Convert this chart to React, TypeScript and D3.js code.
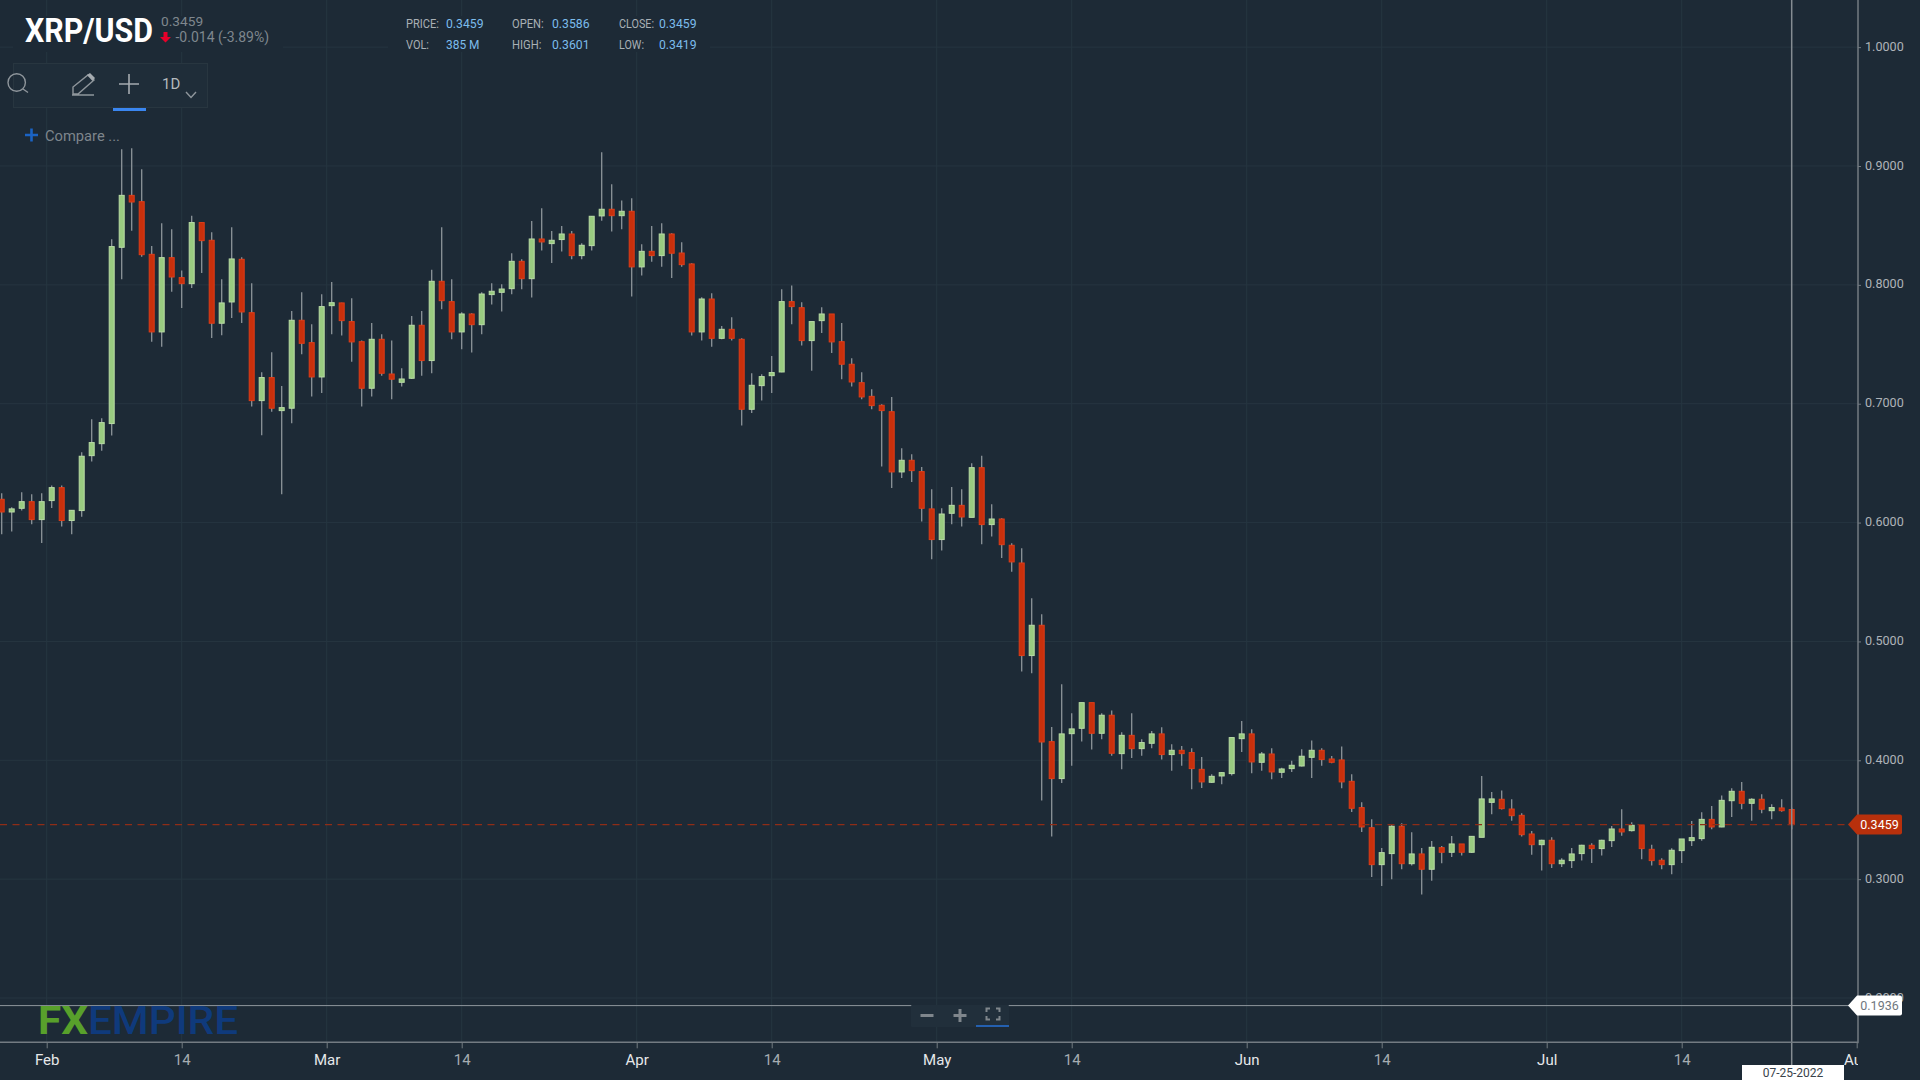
import React, { useEffect, useRef } from 'react';
import * as d3 from 'd3';

// daily XRP/USD candles, 27 Jan 2022 to 25 Jul 2022
const firstDay = Date.UTC(2022, 0, 27);

const opens = [
  0.6196, 0.6089, 0.6120, 0.6176, 0.6025, 0.6185, 0.6294, 0.6017, 0.6101, 0.6563,
  0.6664, 0.6833, 0.8316, 0.8753, 0.8700, 0.8257, 0.7604, 0.8229, 0.8061, 0.8010,
  0.8524, 0.8375, 0.7677, 0.7856, 0.8215, 0.7766, 0.7026, 0.7220, 0.6942, 0.6962,
  0.7702, 0.7514, 0.7225, 0.7825, 0.7848, 0.7691, 0.7522, 0.7130, 0.7542, 0.7250,
  0.7180, 0.7214, 0.7660, 0.7363, 0.8030, 0.7859, 0.7604, 0.7755, 0.7665, 0.7918,
  0.7937, 0.7968, 0.8198, 0.8052, 0.8386, 0.8347, 0.8381, 0.8428, 0.8246, 0.8330,
  0.8580, 0.8636, 0.8582, 0.8619, 0.8151, 0.8282, 0.8246, 0.8428, 0.8268, 0.8176,
  0.7604, 0.7881, 0.7550, 0.7626, 0.7542, 0.6953, 0.7152, 0.7236, 0.7267, 0.7859,
  0.7808, 0.7531, 0.7699, 0.7755, 0.7522, 0.7332, 0.7177, 0.7062, 0.6987, 0.6933,
  0.6426, 0.6524, 0.6429, 0.6115, 0.5857, 0.6078, 0.6145, 0.6044, 0.6462, 0.5983,
  0.6030, 0.5809, 0.5660, 0.4881, 0.5136, 0.4157, 0.3846, 0.4224, 0.4269, 0.4485,
  0.4227, 0.4379, 0.4056, 0.4210, 0.4098, 0.4143, 0.4222, 0.4048, 0.4084, 0.4065,
  0.3924, 0.3815, 0.3868, 0.3888, 0.4182, 0.4222, 0.3983, 0.4053, 0.3899, 0.3930,
  0.3952, 0.4025, 0.4084, 0.4011, 0.4003, 0.3823, 0.3602, 0.3433, 0.3122, 0.3215,
  0.3445, 0.3130, 0.3212, 0.3083, 0.3265, 0.3226, 0.3296, 0.3226, 0.3352, 0.3646,
  0.3672, 0.3590, 0.3537, 0.3380, 0.3290, 0.3327, 0.3130, 0.3156, 0.3215, 0.3285,
  0.3257, 0.3324, 0.3422, 0.3408, 0.3453, 0.3251, 0.3159, 0.3122, 0.3240, 0.3324,
  0.3341, 0.3503, 0.3439, 0.3660, 0.3739, 0.3638, 0.3672, 0.3576, 0.3599, 0.3586,
];

const closes = [
  0.6089, 0.6115, 0.6176, 0.6025, 0.6176, 0.6294, 0.6017, 0.6103, 0.6558, 0.6673,
  0.6841, 0.8322, 0.8753, 0.8697, 0.8254, 0.7604, 0.8229, 0.8066, 0.8010, 0.8524,
  0.8372, 0.7677, 0.7848, 0.8218, 0.7772, 0.7026, 0.7220, 0.6962, 0.6967, 0.7702,
  0.7508, 0.7225, 0.7817, 0.7850, 0.7699, 0.7520, 0.7130, 0.7542, 0.7256, 0.7206,
  0.7208, 0.7660, 0.7363, 0.8030, 0.7867, 0.7604, 0.7755, 0.7665, 0.7923, 0.7946,
  0.7965, 0.8198, 0.8052, 0.8386, 0.8361, 0.8375, 0.8428, 0.8246, 0.8333, 0.8577,
  0.8636, 0.8582, 0.8619, 0.8151, 0.8282, 0.8246, 0.8428, 0.8266, 0.8170, 0.7604,
  0.7881, 0.7550, 0.7626, 0.7550, 0.6953, 0.7155, 0.7228, 0.7262, 0.7859, 0.7817,
  0.7531, 0.7691, 0.7755, 0.7520, 0.7332, 0.7183, 0.7057, 0.6984, 0.6942, 0.6426,
  0.6524, 0.6437, 0.6120, 0.5857, 0.6072, 0.6145, 0.6047, 0.6462, 0.5983, 0.6030,
  0.5814, 0.5669, 0.4881, 0.5136, 0.4154, 0.3846, 0.4222, 0.4264, 0.4485, 0.4227,
  0.4379, 0.4059, 0.4210, 0.4098, 0.4149, 0.4222, 0.4048, 0.4084, 0.4056, 0.3930,
  0.3818, 0.3865, 0.3896, 0.4191, 0.4222, 0.3986, 0.4053, 0.3902, 0.3927, 0.3958,
  0.4034, 0.4084, 0.4006, 0.3983, 0.3818, 0.3596, 0.3439, 0.3122, 0.3223, 0.3445,
  0.3130, 0.3212, 0.3083, 0.3268, 0.3226, 0.3296, 0.3226, 0.3360, 0.3675, 0.3675,
  0.3593, 0.3534, 0.3374, 0.3290, 0.3327, 0.3130, 0.3159, 0.3212, 0.3285, 0.3257,
  0.3327, 0.3422, 0.3397, 0.3453, 0.3257, 0.3156, 0.3122, 0.3243, 0.3338, 0.3349,
  0.3503, 0.3439, 0.3663, 0.3739, 0.3638, 0.3672, 0.3588, 0.3602, 0.3576, 0.3459,
];

const highs = [
  0.6246, 0.6129, 0.6255, 0.6238, 0.6246, 0.6311, 0.6311, 0.6106, 0.6591, 0.6869,
  0.6877, 0.8383, 0.9140, 0.9149, 0.8972, 0.8327, 0.8518, 0.8467, 0.8120, 0.8582,
  0.8529, 0.8442, 0.8047, 0.8484, 0.8232, 0.8013, 0.7264, 0.7433, 0.7149, 0.7780,
  0.7937, 0.7668, 0.7921, 0.8024, 0.7850, 0.7887, 0.7531, 0.7679, 0.7584, 0.7531,
  0.7298, 0.7738, 0.7780, 0.8128, 0.8484, 0.8047, 0.7769, 0.7761, 0.7937, 0.8013,
  0.8005, 0.8266, 0.8215, 0.8538, 0.8644, 0.8453, 0.8496, 0.8453, 0.8350, 0.8580,
  0.9115, 0.8846, 0.8709, 0.8728, 0.8341, 0.8496, 0.8518, 0.8434, 0.8358, 0.8181,
  0.7895, 0.7929, 0.7654, 0.7727, 0.7550, 0.7256, 0.7248, 0.7402, 0.7963, 0.7994,
  0.7853, 0.7691, 0.7811, 0.7755, 0.7679, 0.7382, 0.7264, 0.7121, 0.6995, 0.7057,
  0.6625, 0.6575, 0.6468, 0.6280, 0.6120, 0.6300, 0.6280, 0.6499, 0.6563, 0.6154,
  0.6036, 0.5826, 0.5784, 0.5363, 0.5228, 0.4280, 0.4639, 0.4395, 0.4485, 0.4485,
  0.4395, 0.4418, 0.4236, 0.4395, 0.4177, 0.4247, 0.4278, 0.4135, 0.4121, 0.4101,
  0.4028, 0.3882, 0.3902, 0.4194, 0.4331, 0.4261, 0.4070, 0.4101, 0.3938, 0.3997,
  0.4093, 0.4166, 0.4101, 0.4037, 0.4115, 0.3882, 0.3646, 0.3503, 0.3262, 0.3461,
  0.3470, 0.3394, 0.3262, 0.3321, 0.3279, 0.3363, 0.3296, 0.3363, 0.3868, 0.3733,
  0.3745, 0.3672, 0.3554, 0.3405, 0.3332, 0.3352, 0.3175, 0.3262, 0.3290, 0.3302,
  0.3332, 0.3447, 0.3588, 0.3478, 0.3456, 0.3290, 0.3175, 0.3259, 0.3338, 0.3489,
  0.3562, 0.3616, 0.3703, 0.3764, 0.3818, 0.3680, 0.3714, 0.3630, 0.3672, 0.3601,
];

const lows = [
  0.5901, 0.5924, 0.6101, 0.5986, 0.5829, 0.6123, 0.5966, 0.5901, 0.6050, 0.6513,
  0.6605, 0.6732, 0.8047, 0.8456, 0.8237, 0.7522, 0.7480, 0.7943, 0.7806, 0.7974,
  0.8100, 0.7553, 0.7576, 0.7722, 0.7679, 0.6976, 0.6734, 0.6933, 0.6238, 0.6835,
  0.7416, 0.7060, 0.7091, 0.7584, 0.7573, 0.7354, 0.6976, 0.7060, 0.7236, 0.7037,
  0.7144, 0.7208, 0.7236, 0.7256, 0.7794, 0.7542, 0.7458, 0.7430, 0.7584, 0.7834,
  0.7775, 0.7921, 0.7963, 0.7893, 0.8288, 0.8184, 0.8280, 0.8215, 0.8215, 0.8288,
  0.8540, 0.8448, 0.8467, 0.7901, 0.8078, 0.8195, 0.8153, 0.8058, 0.8153, 0.7573,
  0.7531, 0.7480, 0.7542, 0.7531, 0.6816, 0.6922, 0.7026, 0.7091, 0.7264, 0.7668,
  0.7489, 0.7278, 0.7595, 0.7427, 0.7206, 0.7144, 0.7037, 0.6953, 0.6471, 0.6291,
  0.6375, 0.6342, 0.6008, 0.5691, 0.5764, 0.5986, 0.5966, 0.6044, 0.5817, 0.5882,
  0.5702, 0.5587, 0.4746, 0.4732, 0.3661, 0.3358, 0.3809, 0.3955, 0.4157, 0.4090,
  0.4177, 0.4039, 0.3924, 0.4020, 0.4039, 0.4101, 0.4006, 0.3913, 0.3955, 0.3756,
  0.3767, 0.3809, 0.3798, 0.3871, 0.4070, 0.3891, 0.3913, 0.3840, 0.3851, 0.3902,
  0.3947, 0.3851, 0.3955, 0.3975, 0.3764, 0.3565, 0.3397, 0.3018, 0.2943, 0.2999,
  0.3083, 0.3114, 0.2870, 0.2987, 0.3133, 0.3187, 0.3198, 0.3220, 0.3352, 0.3546,
  0.3585, 0.3492, 0.3358, 0.3206, 0.3072, 0.3094, 0.3102, 0.3094, 0.3156, 0.3136,
  0.3198, 0.3271, 0.3366, 0.3400, 0.3167, 0.3114, 0.3083, 0.3041, 0.3136, 0.3279,
  0.3324, 0.3419, 0.3436, 0.3523, 0.3588, 0.3492, 0.3554, 0.3503, 0.3568, 0.3419,
];

const priceTicks = [0.2, 0.3, 0.4, 0.5, 0.6, 0.7, 0.8, 0.9, 1.0];
const monthTicks = [
  [Date.UTC(2022, 1, 1), 'Feb'],
  [Date.UTC(2022, 2, 1), 'Mar'],
  [Date.UTC(2022, 3, 1), 'Apr'],
  [Date.UTC(2022, 4, 1), 'May'],
  [Date.UTC(2022, 5, 1), 'Jun'],
  [Date.UTC(2022, 6, 1), 'Jul'],
  [Date.UTC(2022, 7, 1), 'Aug'],
] as [number, string][];
// mid-month ticks sit on the candle of the 14th, so at noon
const midTicks = [1, 2, 3, 4, 5, 6].map((m) => Date.UTC(2022, m, 14, 12));

const lastPrice = 0.3459;
const cursorPrice = 0.1936;
const cursorDay = Date.UTC(2022, 6, 25, 12);

const statsRows = [
  [['PRICE:', '0.3459'], ['OPEN:', '0.3586'], ['CLOSE:', '0.3459']],
  [['VOL:', '385 M'], ['HIGH:', '0.3601'], ['LOW:', '0.3419']],
];

const BG = '#1d2a36';
const GRID = '#263540';
const AXIS = '#737b82';
const FONT = 'Roboto, sans-serif';

const plotRight = 1858;
const axisBottomY = 1042.3;

// the stats font is condensed, so widths are forced
const statWidths: Record<string, number> = {
  'PRICE:': 33, 'OPEN:': 31.7, 'CLOSE:': 35, 'VOL:': 23, 'HIGH:': 29.4, 'LOW:': 25, '385 M': 33.5,
};

const App: React.FC = () => {
  const svgRef = useRef<SVGSVGElement>(null);

  useEffect(() => {
    document.body.style.margin = '0';
    document.body.style.background = BG;
    const svg = d3.select(svgRef.current);
    svg.selectAll('*').remove();

    const day = 86400000;
    const xScale = d3
      .scaleUtc()
      .domain([firstDay + day / 2, cursorDay])
      .range([1.7, 1791.7]);
    const yScale = d3.scaleLinear().domain([0.2, 1.0]).range([998, 47.14]);

    svg.append('rect').attr('width', 1920).attr('height', 1080).attr('fill', BG);

    // grid
    const grid = svg.append('g').attr('stroke', GRID).attr('stroke-width', 1);
    priceTicks.forEach((p) => {
      grid.append('line')
        .attr('x1', 0).attr('x2', plotRight)
        .attr('y1', yScale(p)).attr('y2', yScale(p));
    });
    [...monthTicks.map((d) => d[0]), ...midTicks].forEach((t) => {
      if (xScale(t) >= plotRight - 2) return;
      grid.append('line')
        .attr('x1', xScale(t)).attr('x2', xScale(t))
        .attr('y1', 0).attr('y2', axisBottomY);
    });

    // header text sits on a patch that hides the grid
    svg.append('rect').attr('x', 13).attr('y', 16).attr('width', 270).attr('height', 36).attr('fill', BG);
    svg.append('rect').attr('x', 388).attr('y', 16).attr('width', 322).attr('height', 36).attr('fill', BG);

    // candles
    const candles = d3.range(opens.length).map((i) => ({
      x: xScale(firstDay + i * day + day / 2),
      open: opens[i],
      close: closes[i],
      high: highs[i],
      low: lows[i],
    }));
    const marks = svg.append('g');
    marks.selectAll('line')
      .data(candles)
      .enter()
      .append('line')
      .attr('x1', (d) => d.x).attr('x2', (d) => d.x)
      .attr('y1', (d) => yScale(d.high)).attr('y2', (d) => yScale(d.low))
      .attr('stroke', '#8d949a')
      .attr('stroke-width', 1.3);
    marks.selectAll('rect')
      .data(candles)
      .enter()
      .append('rect')
      .attr('x', (d) => d.x - 2.5)
      .attr('width', 5)
      .attr('y', (d) => yScale(Math.max(d.open, d.close)))
      .attr('height', (d) => Math.max(1.5, Math.abs(yScale(d.open) - yScale(d.close))))
      .attr('fill', (d) => (d.close >= d.open ? '#99cb80' : '#c9300c'))
      .attr('stroke', (d) => (d.close >= d.open ? '#b9dca6' : '#de3d18'))
      .attr('stroke-width', 1);

    // last price line
    svg.append('line')
      .attr('x1', 0).attr('x2', 1850)
      .attr('y1', yScale(lastPrice)).attr('y2', yScale(lastPrice))
      .attr('stroke', '#8f2d17')
      .attr('stroke-width', 1.3)
      .attr('stroke-dasharray', '7 5.5');

    // cursor
    svg.append('line')
      .attr('x1', xScale(cursorDay)).attr('x2', xScale(cursorDay))
      .attr('y1', 0).attr('y2', 1066)
      .attr('stroke', '#858c92').attr('stroke-width', 1.5);
    svg.append('line')
      .attr('x1', 0).attr('x2', 1850)
      .attr('y1', yScale(cursorPrice)).attr('y2', yScale(cursorPrice))
      .attr('stroke', '#8f969c').attr('stroke-width', 1);

    // y axis
    const yAxis = d3.axisRight(yScale)
      .tickValues(priceTicks)
      .tickFormat((d) => d3.format('.4f')(d as number))
      .tickSize(3)
      .tickPadding(4);
    const yG = svg.append('g').attr('transform', `translate(${plotRight},0)`).call(yAxis);
    yG.select('.domain').remove();
    yG.selectAll('line').attr('stroke', AXIS).attr('stroke-width', 1);
    yG.selectAll('text')
      .attr('fill', '#aeb3b8')
      .attr('dy', '0.24em')
      .style('font-family', FONT)
      .style('font-size', '12.6px');
    svg.append('line')
      .attr('x1', plotRight).attr('x2', plotRight)
      .attr('y1', 0).attr('y2', axisBottomY + 1)
      .attr('stroke', AXIS).attr('stroke-width', 1.5);

    // x axis, the Aug label is cut by the plot edge
    svg.append('clipPath').attr('id', 'x-clip')
      .append('rect').attr('x', 0).attr('y', -2).attr('width', plotRight).attr('height', 40);
    const labels = new Map<number, string>(monthTicks);
    const xAxis = d3.axisBottom(xScale)
      .tickValues([...monthTicks.map((d) => new Date(d[0])), ...midTicks.map((t) => new Date(t))])
      .tickFormat((d) => labels.get((d as Date).getTime()) ?? '14')
      .tickSize(6)
      .tickPadding(6);
    const xG = svg.append('g')
      .attr('transform', `translate(0,${axisBottomY})`)
      .attr('clip-path', 'url(#x-clip)')
      .call(xAxis);
    xG.select('.domain').remove();
    xG.selectAll('line').attr('stroke', AXIS).attr('stroke-width', 1);
    xG.selectAll('text')
      .attr('fill', (d) => (labels.has((d as Date).getTime()) ? '#e6e8ea' : '#a6acb1'))
      .style('font-family', FONT)
      .style('font-size', '15px');
    svg.append('line')
      .attr('x1', 0).attr('x2', plotRight)
      .attr('y1', axisBottomY).attr('y2', axisBottomY)
      .attr('stroke', AXIS).attr('stroke-width', 1.5);

    // tags on the axes
    const tag = (price: number, fill: string, color: string, label: string, weight: number) => {
      const y = yScale(price);
      svg.append('path')
        .attr('d', `M1848,${y} L1857,${y - 10} H1900 Q1902,${y - 10} 1902,${y - 8} V${y + 8} Q1902,${y + 10} 1900,${y + 10} H1857 Z`)
        .attr('fill', fill);
      svg.append('text')
        .attr('x', 1879.5).attr('y', y + 4.5)
        .attr('text-anchor', 'middle')
        .attr('fill', color)
        .attr('font-family', FONT)
        .attr('font-size', 12.5)
        .attr('font-weight', weight)
        .text(label);
    };
    tag(lastPrice, '#b8300c', '#ffffff', lastPrice.toFixed(4), 400);
    tag(cursorPrice, '#ffffff', '#6f777e', cursorPrice.toFixed(4), 400);

    svg.append('rect').attr('x', 1742).attr('y', 1065).attr('width', 102).attr('height', 15).attr('fill', '#ffffff');
    svg.append('text')
      .attr('x', 1793).attr('y', 1076.5)
      .attr('text-anchor', 'middle')
      .attr('fill', '#39434b')
      .attr('font-family', FONT)
      .attr('font-size', 12)
      .text('07-25-2022');

    // title block
    const text = (x: number, y: number, s: string, size: number, fill: string, weight = 400) =>
      svg.append('text')
        .attr('x', x).attr('y', y)
        .attr('font-family', FONT)
        .attr('font-size', size)
        .attr('font-weight', weight)
        .attr('fill', fill)
        .text(s);

    text(25, 41.5, 'XRP/USD', 33, '#ffffff', 700)
      .attr('textLength', 128)
      .attr('lengthAdjust', 'spacingAndGlyphs');
    text(161, 26, '0.3459', 13.7, '#7f878e');
    text(175.5, 42, '-0.014 (-3.89%)', 14, '#7f878e');
    svg.append('path')
      .attr('d', 'M163.5,32 H167.5 V37 H171 L165.5,42.5 L160,37 H163.5 Z')
      .attr('fill', '#e8002a');

    const statCols = [[406, 446], [512, 552], [619, 659]];
    statsRows.forEach((row, r) => {
      row.forEach(([name, value], c) => {
        const base = r === 0 ? 28 : 49;
        text(statCols[c][0], base, name, 13, '#a9b0b5')
          .attr('textLength', statWidths[name])
          .attr('lengthAdjust', 'spacingAndGlyphs');
        text(statCols[c][1], base, value, 13, '#7cbcec')
          .attr('textLength', statWidths[value] ?? 37.5)
          .attr('lengthAdjust', 'spacingAndGlyphs');
      });
    });

    // toolbar
    svg.append('rect')
      .attr('x', 13.5).attr('y', 63.5).attr('width', 194).attr('height', 44)
      .attr('fill', '#1f2d39').attr('stroke', '#283640');
    const icons = svg.append('g').attr('fill', 'none').attr('stroke', '#8f969c').attr('stroke-width', 1.4);
    icons.append('circle').attr('cx', 16.7).attr('cy', 82.5).attr('r', 8.7);
    icons.append('path').attr('d', 'M23,89 L28,92.5');
    icons.append('path').attr('d', 'M73,94 V87 L88,75 L94,80 L78,94 Z M72,95 H94');
    icons.append('path').attr('d', 'M87,75 L90,73 L95,78 L92.5,81 Z').attr('fill', '#a5abb0').attr('stroke', 'none');
    icons.append('path').attr('d', 'M119,84 H139 M129,74 V94').attr('stroke', '#a5abb0').attr('stroke-width', 1.6);
    icons.append('path').attr('d', 'M186,92 L191,97.5 L196,92');
    svg.append('rect').attr('x', 113).attr('y', 108).attr('width', 33).attr('height', 3).attr('fill', '#3a86f0');
    text(162, 89, '1D', 15, '#b4b9bd');

    svg.append('path')
      .attr('d', 'M25,135 H38 M31.5,128.5 V141.5')
      .attr('stroke', '#1b63c4').attr('stroke-width', 2.6);
    text(45, 141, 'Compare ...', 14.7, '#7d858c');

    // logo
    text(38, 1034, 'FX', 38, '#58a02b', 700)
      .attr('textLength', 50)
      .attr('lengthAdjust', 'spacingAndGlyphs');
    text(88, 1034, 'EMPIRE', 38, '#0f3a7c', 500)
      .attr('textLength', 150)
      .attr('lengthAdjust', 'spacingAndGlyphs');

    // zoom buttons
    svg.append('rect').attr('x', 911).attr('y', 1005).attr('width', 98).attr('height', 22).attr('rx', 1).attr('fill', '#212f3b');
    svg.append('path')
      .attr('d', 'M920.5,1015.5 H933.5 M953.5,1015.5 H966.5 M960,1009 V1022')
      .attr('stroke', '#7f868c').attr('stroke-width', 3).attr('fill', 'none');
    svg.append('path')
      .attr('d', 'M986.5,1012 V1008.5 H990 M996,1008.5 H999.5 V1012 M999.5,1016 V1019.5 H996 M990,1019.5 H986.5 V1016')
      .attr('stroke', '#7f868c').attr('stroke-width', 2).attr('fill', 'none');
    svg.append('rect').attr('x', 976).attr('y', 1025).attr('width', 33).attr('height', 2).attr('fill', '#2460b0');
  }, []);

  return (
    <svg
      ref={svgRef}
      width={1920}
      height={1080}
      style={{ position: 'absolute', left: 0, top: 0, display: 'block' }}
    />
  );
};

export default App;
